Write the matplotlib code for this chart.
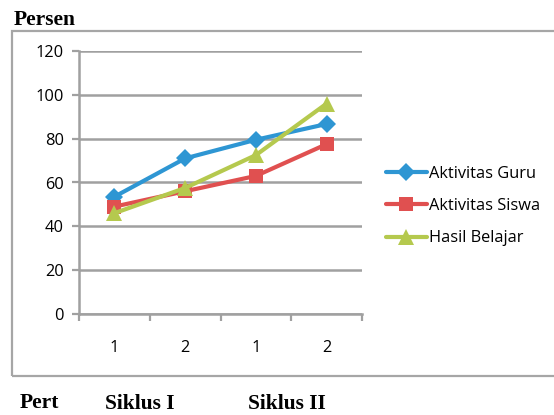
import matplotlib
matplotlib.use("Agg")
import matplotlib.pyplot as plt
from matplotlib.patches import Rectangle

categories = ["1", "2", "1", "2"]
guru = [53.5, 71, 79.5, 86.7]
siswa = [49, 56, 63, 77.5]
hasil = [46, 57.5, 72.5, 96]
series_names = ["Aktivitas Guru", "Aktivitas Siswa", "Hasil Belajar"]
yticks = [0, 20, 40, 60, 80, 100, 120]

W, H = 554, 415
fig = plt.figure(figsize=(W / 100, H / 100), dpi=100)

# outer chart frame
fig.patches.append(Rectangle((12 / W, 1 - 376 / H), 560 / W, (376 - 31) / H,
                             transform=fig.transFigure, fill=False,
                             edgecolor="#A6A6A6", lw=1.6, zorder=0))

ax = fig.add_axes([79 / W, 1 - 314 / H, 283 / W, 263 / H])
x = list(range(len(categories)))
colors = ["#2E96D3", "#E05050", "#B5C94E"]
markers = ["D", "s", "^"]
msizes = [9, 10, 11]
for vals, name, c, m, ms in zip([guru, siswa, hasil], series_names, colors, markers, msizes):
    ax.plot(x, vals, color=c, lw=3, marker=m, markersize=ms, label=name,
            markeredgewidth=0, zorder=3, solid_capstyle="round")

ax.set_xlim(-0.5, len(categories) - 0.5)
ax.set_ylim(0, 120)
ax.set_yticks(yticks)
ax.set_yticklabels([str(v) for v in yticks])
ax.set_xticks(x)
ax.set_xticklabels(categories)
ax.set_xticks([i - 0.5 for i in range(len(categories) + 1)], minor=True)
ax.tick_params(axis="x", which="major", length=0, pad=19)
ax.tick_params(axis="x", which="minor", length=5, width=1.6, color="#A0A0A0", direction="out")
ax.tick_params(axis="y", length=5, width=1.6, color="#A0A0A0", direction="out", pad=6)
for lab in ax.get_xticklabels() + ax.get_yticklabels():
    lab.set_fontfamily("Open Sans")
    lab.set_fontsize(11.8)
ax.grid(axis="y", color="#A0A0A0", lw=1.8, zorder=0)
ax.set_axisbelow(True)
for s in ["top", "right"]:
    ax.spines[s].set_visible(False)
ax.spines["left"].set_color("#A0A0A0")
ax.spines["left"].set_linewidth(1.8)
ax.spines["bottom"].set_color("#A0A0A0")
ax.spines["bottom"].set_linewidth(1.8)

leg = fig.legend(loc="center left", bbox_to_anchor=(386 / W, 1 - 206 / H),
                 frameon=False, prop={"family": "Open Sans", "size": 11.8},
                 handlelength=2.5, handletextpad=0.15, labelspacing=1.0,
                 borderaxespad=0, borderpad=0)

serif = {"family": "Liberation Serif", "weight": "bold", "size": 15.5}
fig.text(14 / W, 1 - 20 / H, "Persen", fontdict=serif, va="center", ha="left")
fig.text(20 / W, 1 - 403 / H, "Pert", fontdict=serif, va="center", ha="left")
fig.text(140 / W, 1 - 404 / H, "Siklus I", fontdict=serif, va="center", ha="center")
fig.text(287 / W, 1 - 404 / H, "Siklus II", fontdict=serif, va="center", ha="center")

fig.savefig("out.png", dpi=100)
